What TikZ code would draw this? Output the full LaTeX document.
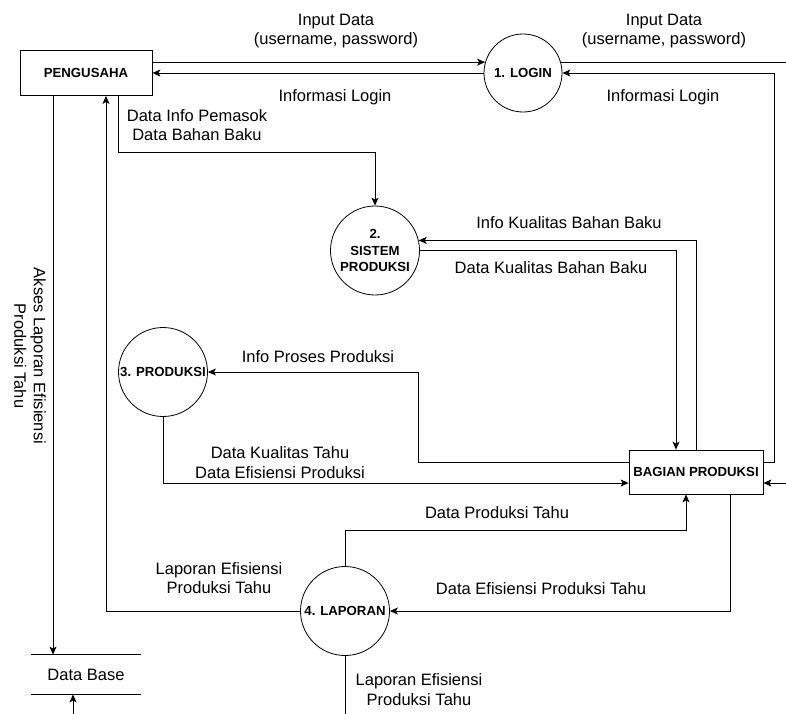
\documentclass[tikz,border=0pt]{standalone}
\usepackage{fontspec}
\setmainfont{Liberation Sans}
\usetikzlibrary{arrows.meta}
\begin{document}
\begin{tikzpicture}[x=1pt,y=-1pt,
	line width=0.8pt,
	flow/.style={-{Stealth[length=8pt,width=7pt,inset=2pt]}},
	proc/.style={circle,draw,minimum size=89pt,inner sep=0pt,align=center,
		font=\fontsize{13.2}{16.5}\selectfont\bfseries},
	ent/.style={rectangle,draw,minimum width=132pt,minimum height=45pt,inner sep=0pt,
		font=\fontsize{13.2}{16}\selectfont\bfseries},
	lbl/.style={align=center,inner sep=0pt,font=\fontsize{16.5}{19.5}\selectfont}]
	\useasboundingbox (0,0) rectangle (786,713);
	\coordinate (edgeR) at (790,0);
	\coordinate (edgeB) at (0,720);

	\node[ent] (peng) at (86,73) {PENGUSAHA};
	\node[ent,minimum width=134pt,minimum height=44pt] (bag) at (696,472) {BAGIAN PRODUKSI};
	\node[proc,minimum size=78pt] (login) at (523,73) {1. LOGIN};
	\node[proc] (sist) at (375,250.5) {2.\\SISTEM\\PRODUKSI};
	\node[proc] (prod) at (163,372) {3. PRODUKSI};
	\node[proc] (lap) at (345,611) {4. LAPORAN};
	\node[minimum width=110pt,minimum height=39pt,inner sep=0pt,
		font=\fontsize{16.5}{19.5}\selectfont] (db) at (86,674.5) {Data Base};
	\draw (db.north west)--(db.north east);
	\draw (db.south west)--(db.south east);

	\draw[flow] (peng.east |- login.164)--(login.164);
	\draw[flow] (login.west)--(peng.east);
	\node[lbl] (inLblA) at (336,31) {Input Data\\(username, password)};
	\node[lbl] (infLblA) at (335,97) {Informasi Login};

	\draw[flow] (login.16)--(login.16 -| edgeR)--(edgeR |- bag.east)
	--([yshift=-11pt]bag.east -| edgeR)--([yshift=-11pt]bag.east);
	\draw[flow] ([yshift=10pt]bag.east)--++(11,0) |- (login.east);
	\node[lbl] (inLblB) at (664,31) {Input Data\\(username, password)};
	\node[lbl] (infLblB) at (663,97) {Informasi Login};

	\draw[flow] ([xshift=32pt]peng.south)--++(0,56.5) -| (sist.north);
	\node[lbl] (pemLbl) at (197,125) {Data Info Pemasok\\Data Bahan Baku};

	\draw[flow] ([xshift=-33pt]peng.south)--([xshift=-33pt]peng.south |- db.north);
	\node[lbl,rotate=-90] (aksLbl) at (30,356) {Akses Laporan Efisiensi\\Produksi Tahu};
	\draw[flow] ([xshift=-13pt]db.south |- edgeB)--([xshift=-13pt]db.south);

	\draw[flow] (lap.west) -| ([xshift=20pt]peng.south);
	\node[lbl] (lapLblA) at (219,578) {Laporan Efisiensi\\Produksi Tahu};

	\draw[flow] (bag.north) |- (sist.13);
	\draw[flow] (sist.east) -| ([xshift=-20pt]bag.north);
	\node[lbl] (ikLbl) at (569,223) {Info Kualitas Bahan Baku};
	\node[lbl] (dkLbl) at (551,268) {Data Kualitas Bahan Baku};

	\draw[flow] ([yshift=10pt]bag.west)--++(-210,0) |- (prod.east);
	\node[lbl] (ipLbl) at (318,357) {Info Proses Produksi};
	\draw[flow] (prod.south) |- ([yshift=-11pt]bag.west);
	\node[lbl] (dktLbl) at (280,462.5) {Data Kualitas Tahu\\Data Efisiensi Produksi};

	\draw[flow] (lap.north)--++(0,-35.5) -| ([xshift=-10pt]bag.south);
	\node[lbl] (dpLbl) at (497,513) {Data Produksi Tahu};
	\draw[flow] ([xshift=34pt]bag.south) |- (lap.east);
	\node[lbl] (deLbl) at (541,589) {Data Efisiensi Produksi Tahu};

	\draw (lap.south)--(lap.south |- edgeB);
	\node[lbl] (lapLblB) at (419,689.5) {Laporan Efisiensi\\Produksi Tahu};
\end{tikzpicture}
\end{document}
